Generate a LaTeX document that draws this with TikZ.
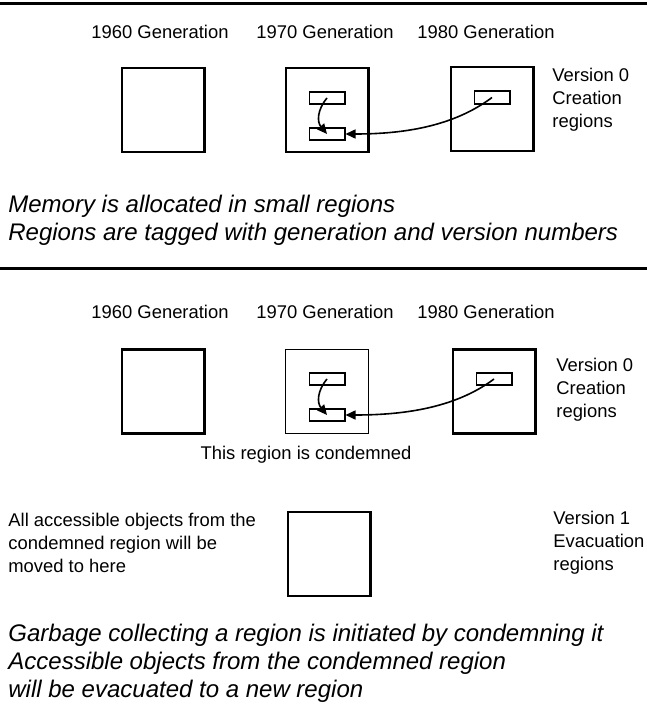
\documentclass[tikz,border=0pt]{standalone}
\usepackage{fontspec}
\setmainfont{Liberation Sans}
\usetikzlibrary{arrows.meta}
\tikzset{>={Triangle[length=5pt,width=4.5pt]}}

\begin{document}
\begin{tikzpicture}[x=0.5pt, y=-0.5pt,
    region/.style={draw, line width=1.3pt, minimum width=41.2pt, minimum height=42pt, inner sep=0pt},
    condemned/.style={region, line width=0.5pt},
    obj/.style={draw, line width=0.9pt, minimum width=17.6pt, minimum height=6.2pt, inner sep=0pt},
    lbl/.style={font=\fontsize{9.2}{11.5}\selectfont, align=left, inner sep=0pt},
    caption/.style={font=\fontsize{12}{14}\selectfont\itshape, align=left, inner sep=0pt, anchor=west},
    rule/.style={line width=1.5pt},
    ptr/.style={->, line width=0.8pt}]
    \useasboundingbox (0,0) rectangle (647,706);

    \draw[rule] (0,4) -- (647,4);
    \draw[rule] (0,268) -- (647,268);

    % generation 1: allocation
    \node[lbl] (gen60a) at (160,32) {1960 Generation};
    \node[lbl] (gen70a) at (325,32) {1970 Generation};
    \node[lbl] (gen80a) at (486,32) {1980 Generation};

    \node[region] (reg60a) at (163,110) {};
    \node[region] (reg70a) at (327,110) {};
    \node[region] (reg80a) at (492,109) {};

    \node[obj] (up70a) at (327,98) {};
    \node[obj] (lo70a) at (327,134) {};
    \node[obj] (obj80a) at (492,97.5) {};

    \draw[ptr] (up70a.center) .. controls +(-10,12) and +(-10,-12) .. (lo70a.center);
    \draw[ptr] (obj80a.center) .. controls +(-40,30) and +(55,0) .. (lo70a.east);

    \node[lbl, anchor=west] (ver0a) at (552,100) {Version 0\\Creation\\regions};

    \node[caption] (capa) at (8,220) {Memory is allocated in small regions\\Regions are tagged with generation and version numbers};

    % generation 2: condemning
    \node[lbl] (gen60b) at (160,312) {1960 Generation};
    \node[lbl] (gen70b) at (325,312) {1970 Generation};
    \node[lbl] (gen80b) at (486,312) {1980 Generation};

    \node[region] (reg60b) at (163,391.5) {};
    \node[condemned] (reg70b) at (327,391.5) {};
    \node[region] (reg80b) at (494,391.5) {};

    \node[obj] (up70b) at (327,379) {};
    \node[obj] (lo70b) at (327,415) {};
    \node[obj] (obj80b) at (494,379) {};

    \draw[ptr] (up70b.center) .. controls +(-10,12) and +(-10,-12) .. (lo70b.center);
    \draw[ptr] (obj80b.center) .. controls +(-40,30) and +(55,0) .. (lo70b.east);

    \node[lbl, anchor=west] (ver0b) at (556,390) {Version 0\\Creation\\regions};
    \node[lbl] (condlbl) at (306,455) {This region is condemned};

    \node[lbl, anchor=west] (movelbl) at (8,543) {All accessible objects from the\\condemned region will be\\moved to here};
    \node[region] (evac) at (329,554) {};
    \node[lbl, anchor=west] (ver1) at (553,543) {Version 1\\Evacuation\\regions};

    \node[caption] (capb) at (8,663) {Garbage collecting a region is initiated by condemning it\\Accessible objects from the condemned region\\will be evacuated to a new region};
\end{tikzpicture}
\end{document}
